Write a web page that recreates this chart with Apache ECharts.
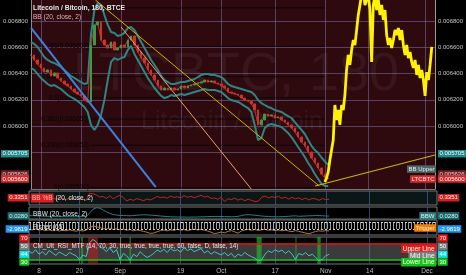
<!DOCTYPE html>
<html><head><meta charset="utf-8">
<script src="https://cdn.jsdelivr.net/npm/echarts@6/dist/echarts.min.js"></script>
<style>html,body{margin:0;padding:0;background:#000;}#c{width:466px;height:275px;}</style>
</head><body><div id="c"></div>
<script>
// ---------------- DATA ----------------
const ltcStart = '2013-08-05';
const ltcClose = [
0.006541,0.006503,0.006472,0.006442,0.006411,0.006427,0.006381,0.006404,0.006366,0.006343,
0.006320,0.006305,0.006282,0.006259,0.006244,0.006229,0.006198,0.006183,0.006617,0.006770,
0.006792,0.006655,0.006617,0.006594,0.006640,0.006579,0.006594,0.006617,0.006602,0.006655,
0.006686,0.006617,0.006564,0.006518,0.006480,0.006427,0.006389,0.006350,0.006305,0.006274,
0.006290,0.006274,0.006290,0.006274,0.006282,0.006305,0.006290,0.006305,0.006312,0.006320,
0.006328,0.006335,0.006350,0.006335,0.006343,0.006328,0.006320,0.006305,0.006290,0.006259,
0.006251,0.006244,0.006236,0.006213,0.006198,0.006190,0.006168,0.006122,0.006008,0.006046,
0.006091,0.006076,0.006084,0.006061,0.006069,0.006046,0.006030,0.006008,0.005985,0.005954,
0.005916,0.005878,0.005848,0.005802,0.005756,0.005718,0.005680,0.005634,0.005604,0.005600];
const bbUpper = [
0.006640,0.006625,0.006602,0.006564,0.006526,0.006503,0.006488,0.006480,0.006465,0.006450,
0.006427,0.006404,0.006381,0.006366,0.006350,0.006335,0.006320,0.006328,0.006700,0.006880,
0.006937,0.006922,0.006846,0.006770,0.006716,0.006709,0.006686,0.006693,0.006709,0.006747,
0.006754,0.006731,0.006686,0.006640,0.006594,0.006549,0.006503,0.006465,0.006427,0.006381,
0.006350,0.006335,0.006320,0.006320,0.006328,0.006335,0.006335,0.006343,0.006350,0.006358,
0.006373,0.006389,0.006396,0.006396,0.006389,0.006389,0.006381,0.006373,0.006350,0.006320,
0.006305,0.006297,0.006290,0.006282,0.006274,0.006267,0.006259,0.006236,0.006198,0.006175,
0.006160,0.006145,0.006137,0.006122,0.006114,0.006107,0.006091,0.006076,0.006061,0.006030,
0.006000,0.005970,0.005939,0.005893,0.005848,0.005817,0.005794,0.005760,0.005730,0.005705];
const bbLower = [
0.006442,0.006427,0.006396,0.006366,0.006343,0.006320,0.006305,0.006312,0.006297,0.006282,
0.006259,0.006236,0.006221,0.006206,0.006190,0.006168,0.006145,0.006107,0.006008,0.005970,
0.006008,0.006084,0.006198,0.006350,0.006488,0.006518,0.006503,0.006518,0.006526,0.006579,
0.006610,0.006549,0.006503,0.006457,0.006411,0.006366,0.006328,0.006290,0.006259,0.006229,
0.006213,0.006221,0.006236,0.006229,0.006236,0.006244,0.006236,0.006244,0.006251,0.006259,
0.006267,0.006274,0.006282,0.006274,0.006274,0.006274,0.006267,0.006259,0.006236,0.006213,
0.006198,0.006190,0.006183,0.006168,0.006152,0.006137,0.006107,0.006008,0.005893,0.005909,
0.005985,0.006008,0.006015,0.006008,0.006000,0.005992,0.005970,0.005947,0.005916,0.005878,
0.005840,0.005802,0.005764,0.005718,0.005680,0.005634,0.005596,0.005558,0.005543,0.005543];
// projected bars pattern (yellow), half-day steps from Nov 1
const patternStart = '2013-11-01';
const patternValues = [
0.005573,0.005604,0.005650,0.005741,0.005817,0.005893,0.006160,0.006046,0.006122,0.006008,
0.006160,0.006122,0.006236,0.006427,0.006541,0.006465,0.006579,0.006655,0.006617,0.006731,
0.006846,0.006922,0.006998,0.007036,0.006922,0.006960,0.006998,0.006884,0.006488,0.006922,
0.006998,0.006884,0.006960,0.006846,0.006922,0.006808,0.006884,0.006693,0.006617,0.006670,
0.006594,0.006655,0.006731,0.006693,0.006747,0.006655,0.006731,0.006617,0.006541,0.006617,
0.006518,0.006564,0.006488,0.006442,0.006503,0.006389,0.006465,0.006366,0.006427,0.006350,
0.006229,0.006411,0.006350,0.006465,0.006602];
const pctB = [
0.62,0.45,0.70,0.38,0.55,0.30,0.62,0.48,0.35,0.58,
0.42,0.30,0.50,0.40,0.28,0.46,0.35,0.20,1.10,1.05,
0.90,0.62,0.70,0.45,0.78,0.40,0.66,0.85,0.55,0.10,
0.35,0.20,0.42,0.30,0.15,0.38,0.25,0.45,0.70,0.55,
0.62,0.48,0.75,0.58,0.66,0.52,0.80,0.60,0.70,0.55,
0.68,0.85,0.62,0.72,0.45,0.50,0.35,0.58,0.05,0.40,
0.30,0.48,0.22,0.40,0.15,0.35,0.20,0.05,0.10,0.60,
0.75,0.50,0.68,0.55,0.72,0.45,0.62,0.35,0.58,0.40,
0.52,0.30,0.48,0.25,0.44,0.38,0.20,0.42,0.30,0.34];
const bbw = [
0.045,0.044,0.042,0.040,0.038,0.036,0.035,0.034,0.033,0.032,
0.032,0.031,0.031,0.030,0.030,0.031,0.032,0.034,0.080,0.130,
0.150,0.145,0.120,0.095,0.075,0.060,0.052,0.048,0.046,0.044,
0.043,0.045,0.050,0.054,0.056,0.055,0.052,0.048,0.044,0.040,
0.036,0.033,0.030,0.028,0.027,0.026,0.026,0.025,0.025,0.026,
0.027,0.028,0.030,0.032,0.033,0.034,0.034,0.033,0.032,0.031,
0.030,0.032,0.036,0.045,0.055,0.058,0.055,0.050,0.045,0.040,
0.036,0.034,0.032,0.030,0.030,0.031,0.033,0.036,0.040,0.042,
0.036,0.038,0.040,0.042,0.044,0.046,0.045,0.043,0.040,0.038];
const fisher = [
-2.2,-2.5,-2.0,-2.6,-2.3,-2.8,-2.4,-2.9,-2.5,-3.0,
-2.6,-2.9,-2.4,-2.8,-3.1,-2.7,-3.0,-2.6,-1.2,-0.6,
-0.8,-1.3,-1.8,-2.0,-1.6,-2.2,-1.9,-2.4,-2.1,-2.6,
-2.3,-2.9,-2.5,-2.8,-3.2,-3.6,-4.2,-4.0,-3.4,-2.8,
-2.5,-2.9,-2.4,-2.7,-2.2,-2.6,-2.3,-2.8,-2.4,-2.1,
-2.5,-2.2,-2.6,-3.0,-3.6,-4.3,-4.0,-3.5,-3.9,-3.2,
-2.8,-3.4,-4.1,-3.0,-2.5,-2.2,-2.6,-2.3,-2.7,-2.4,
-2.2,-2.6,-2.4,-2.8,-2.5,-2.9,-2.6,-3.0,-3.3,-2.8,
-3.2,-3.6,-4.0,-4.4,-3.8,-3.2,-2.9,-3.1,-2.8,-2.98];
const fisherBand = [1.5, -2.0];
const rsi = [
52,46,55,44,50,42,53,47,41,49,45,40,48,44,40,31,42,38,
72,80,74,62,58,50,60,48,55,
30,46,40,29,44,38,50,42,36,
40,46,54,50,56,48,58,52,55,49,60,53,57,50,54,58,47,52,44,50,46,
42,48,40,46,36,44,40,48,42,38,34,28,30,
44,52,48,55,50,54,46,52,44,31,46,42,48,40,44,36,28,32,40,44];
const rsiLevels = [70, 30];
const rsiHot = [['2013-08-22T12:00Z','2013-08-25T12:00Z']];
const rsiCold = [['2013-08-20T12:00Z','2013-08-21T00:00Z'],['2013-09-01T00:00Z','2013-09-01T08:00Z'],
  ['2013-09-03T20:00Z','2013-09-04T06:00Z'],['2013-10-11T12:00Z','2013-10-13T00:00Z'],
  ['2013-10-23T00:00Z','2013-10-23T08:00Z'],['2013-10-29T12:00Z','2013-10-30T12:00Z']];
const tickDates = ['2013-08-08','2013-08-20','2013-09-01','2013-09-19','2013-10-01','2013-10-17','2013-11-01','2013-11-14','2013-12-01'];
const tickLabels = ['8','20','Sep','19','Oct','17','Nov','14','Dec'];
const priceTicks = [0.0058,0.0060,0.0062,0.0064,0.0066,0.0068];
const fibLevels = ['1','0.786','0.618','0.5','0.382','0.236','0'];
const fibPrices = [0.006900,0.006607,0.006377,0.006215,0.006053,0.005853,0.005530];
const fibSpan = ['2013-08-22T20:00Z','2013-11-01T00:00Z'];
const trendBlue = [['2013-08-05T01:00Z',0.006747],['2013-09-11T09:00Z',0.005535]];
const trendYellowA = [['2013-08-24T07:30Z',0.006960],['2013-10-30T07:00Z',0.005543]];
const trendYellowB = [['2013-10-29T02:30Z',0.005543],['2013-12-03T23:00Z',0.005779]];
const trendOrange = [['2013-09-01T00:00Z',0.006754],['2013-10-09T23:00Z',0.005520]];
const lastPrice = 0.005600;
const xRange = ['2013-08-05T01:00Z','2013-12-03T23:00Z'];
const priceRange = [0.005520, 0.006960];

// ---------------- BUILD ----------------
const DAY = 86400000;
const P = s => Date.parse(s.length === 10 ? s + 'T00:00:00Z' : s);
const t0 = P(ltcStart);
const days = ltcClose.map((_, i) => t0 + i * DAY);
const pt0 = P(patternStart);
const patTimes = patternValues.map((_, i) => pt0 + i * DAY / 2);
const tickTimes = tickDates.map(P);
const xMin = P(xRange[0]), xMax = P(xRange[1]);
const pairs = (arr) => days.map((d, i) => [d, arr[i]]).filter(p => p[1] !== undefined);
const tl = (arr) => arr.map(p => [P(p[0]), p[1]]);
const candleData = ltcClose.map((c, i) => {
  const o = i ? ltcClose[i - 1] : c;
  return [days[i], o, c, Math.min(o, c), Math.max(o, c)];
});
const FONT = 'Liberation Sans, Arial, sans-serif';

const stripe = document.createElement('canvas');
stripe.width = 3; stripe.height = 2;
const sc = stripe.getContext('2d');
sc.fillStyle = 'rgba(210,210,210,0.75)'; sc.fillRect(0, 0, 1, 2);

const panes = [
  {top: 0, height: 189, bg: '#2e0a0f'},
  {top: 191, height: 14, bg: '#0b1616'},
  {top: 207, height: 12, bg: '#000000'},
  {top: 220, height: 15, bg: '#000000'},
  {top: 237, height: 28, bg: '#000000'}
];

const chart = echarts.init(document.getElementById('c'), null, {renderer: 'canvas'});
const fibSeries = fibLevels.map((lv, i) => ({
  name: 'Fib ' + lv, type: 'line', xAxisIndex: 0, yAxisIndex: 0, silent: true, z: 3,
  data: [[P(fibSpan[0]), fibPrices[i]], [P(fibSpan[1]), fibPrices[i]]],
  showSymbol: true, symbol: 'circle', symbolSize: 1, itemStyle: {color: 'rgba(0,0,0,0)'},
  lineStyle: {color: 'rgba(0,0,0,0.7)', width: 1},
  label: {show: true, position: 'left', distance: 1, color: '#050505', fontSize: 6.5, fontFamily: FONT,
    formatter: p => p.dataIndex === 0 ? lv + '(' + fibPrices[i].toFixed(6) + ')' : ''},
  labelLayout: {hideOverlap: false}
}));
const option = {
  backgroundColor: '#000000',
  animation: false,
  grid: panes.map((g, i) => ({left: 29, right: 29, top: g.top, height: g.height, show: true,
    backgroundColor: g.bg, borderWidth: i ? 1 : 0, borderColor: '#777777'})),
  xAxis: panes.map((g, i) => ({
    type: 'value', gridIndex: i, min: xMin, max: xMax, scale: true,
    axisLine: {show: i === 0, onZero: false, lineStyle: {color: '#777777'}},
    axisTick: {show: false, customValues: tickTimes},
    axisLabel: {show: i === 4, customValues: tickTimes, color: '#bdbdbd', fontSize: 6.5, margin: 4, fontFamily: FONT,
      formatter: v => { const k = tickTimes.indexOf(v); return k >= 0 ? tickLabels[k] : ''; }},
    splitLine: {show: true, lineStyle: {color: i === 0 ? 'rgba(125,110,170,0.55)' : 'rgba(80,100,165,0.65)', width: 1}}
  })),
  yAxis: [
    {gridIndex: 0, position: 'left', min: priceRange[0], max: priceRange[1], scale: true,
      axisLine: {show: true, onZero: false, lineStyle: {color: '#8c8c8c'}}, axisTick: {show: false, customValues: priceTicks},
      axisLabel: {customValues: priceTicks, formatter: v => v.toFixed(6), color: '#c4c4c4', fontSize: 6, margin: 3, fontFamily: FONT},
      splitLine: {show: true, lineStyle: {color: 'rgba(125,110,170,0.55)'}}},
    {gridIndex: 0, position: 'right', min: priceRange[0], max: priceRange[1], scale: true,
      axisLine: {show: true, onZero: false, lineStyle: {color: '#9a9a9a'}}, axisTick: {show: false, customValues: priceTicks},
      axisLabel: {customValues: priceTicks, formatter: v => v.toFixed(6), color: '#c4c4c4', fontSize: 6, margin: 3, fontFamily: FONT},
      splitLine: {show: false}},
    {gridIndex: 1, min: -0.4, max: 1.4, show: false},
    {gridIndex: 2, min: 0, max: 0.16, show: false},
    {gridIndex: 3, min: -5, max: 2.5, show: false},
    {gridIndex: 4, min: 20, max: 86, show: false}
  ],
  series: [
    ...fibSeries,
    {name: 'BB Upper', type: 'line', xAxisIndex: 0, yAxisIndex: 0, data: pairs(bbUpper), showSymbol: false, silent: true,
      lineStyle: {color: '#2f8583', width: 2}, z: 4},
    {name: 'BB Lower', type: 'line', xAxisIndex: 0, yAxisIndex: 0, data: pairs(bbLower), showSymbol: false, silent: true,
      lineStyle: {color: '#2f8583', width: 2}, z: 4},
    {name: 'LTCBTC', type: 'candlestick', xAxisIndex: 0, yAxisIndex: 0, data: candleData, barWidth: 2,
      encode: {x: 0, y: [1, 2, 3, 4]}, silent: true, z: 5,
      itemStyle: {color: '#3a9a4a', color0: '#c8332b', borderColor: '#3a9a4a', borderColor0: '#c8332b', borderWidth: 1},
      markLine: {symbol: 'none', silent: true, label: {show: false},
        data: [{yAxis: lastPrice, lineStyle: {color: '#d42a2a', type: [2, 2], width: 1}}]}},
    {name: 'Close', type: 'line', xAxisIndex: 0, yAxisIndex: 0, data: pairs(ltcClose), showSymbol: false, silent: true,
      lineStyle: {color: '#b8322c', width: 1}, z: 5},
    {name: 'Pattern', type: 'line', xAxisIndex: 0, yAxisIndex: 0, data: patTimes.map((d, i) => [d, patternValues[i]]),
      showSymbol: false, silent: true, lineStyle: {color: '#fff200', width: 2.8}, z: 6},
    {name: 'Blue', type: 'line', xAxisIndex: 0, yAxisIndex: 0, data: tl(trendBlue), showSymbol: false, silent: true,
      lineStyle: {color: '#3f80dc', width: 2}, z: 7},
    {name: 'YellowA', type: 'line', xAxisIndex: 0, yAxisIndex: 0, data: tl(trendYellowA), showSymbol: false, silent: true,
      lineStyle: {color: '#cbb400', width: 1}, z: 7},
    {name: 'YellowB', type: 'line', xAxisIndex: 0, yAxisIndex: 0, data: tl(trendYellowB), showSymbol: false, silent: true,
      lineStyle: {color: '#cbb400', width: 1.2}, z: 7},
    {name: 'Orange', type: 'line', xAxisIndex: 0, yAxisIndex: 0, data: tl(trendOrange), showSymbol: false, silent: true,
      lineStyle: {color: '#e3a36a', width: 1}, z: 7},
    {name: '%B', type: 'line', xAxisIndex: 1, yAxisIndex: 2, data: pairs(pctB), showSymbol: false, silent: true,
      lineStyle: {color: '#d01f1f', width: 1}},
    {name: 'BBW', type: 'line', xAxisIndex: 2, yAxisIndex: 3, data: pairs(bbw), showSymbol: false, silent: true,
      lineStyle: {color: '#1f8486', width: 1}},
    {name: 'Fisher', type: 'line', xAxisIndex: 3, yAxisIndex: 4, data: pairs(fisher), showSymbol: false, silent: true,
      lineStyle: {color: '#b8743a', width: 1},
      markArea: {silent: true, data: [[{yAxis: fisherBand[1], itemStyle: {color: {image: stripe, repeat: 'repeat'}}}, {yAxis: fisherBand[0]}]]},
      markLine: {symbol: 'none', silent: true, label: {show: false},
        lineStyle: {color: '#d8d8d8', type: [2, 2], width: 1},
        data: fisherBand.map(v => ({yAxis: v}))}},
    {name: 'RSI', type: 'line', xAxisIndex: 4, yAxisIndex: 5, data: pairs(rsi), showSymbol: false, silent: true,
      lineStyle: {color: '#39c9cb', width: 1}, z: 5,
      markArea: {silent: true, data: [
        [{yAxis: rsiLevels[1], itemStyle: {color: 'rgba(130,130,130,0.45)'}}, {yAxis: rsiLevels[0]}],
        ...rsiHot.map(z => [{xAxis: P(z[0]), itemStyle: {color: 'rgba(190,30,30,0.55)'}}, {xAxis: P(z[1])}]),
        ...rsiCold.map(z => [{xAxis: P(z[0]), itemStyle: {color: 'rgba(30,200,40,0.6)'}}, {xAxis: P(z[1])}])
      ]},
      markLine: {symbol: 'none', silent: true, label: {show: false},
        data: [{yAxis: rsiLevels[0], lineStyle: {color: '#e01414', width: 1.5, type: 'solid'}},
               {yAxis: rsiLevels[1], lineStyle: {color: '#19c219', width: 1.5, type: 'solid'}}]}}
  ]
};
chart.setOption(option);

// ---------------- LABELS / TAGS ----------------
const L = 29, R = 437;
const g = [];
const txt = (text, x, y, o) => g.push(Object.assign({type: 'text', x, y, z: 100,
  style: Object.assign({text, font: '6px ' + FONT, fill: '#ffffff', verticalAlign: 'middle'}, o.style)}, o.el || {}));
const tags = [
  ['0.005705', 0.005705, 0, -11, '#1f8a8a', '#ffffff', null, null],
  ['0.005626', 0.005626, 0, -1, '#6e2128', '#f0c8c8', 'BB Upper', '#4b6766'],
  ['0.005600', 0.005600, 0, 0.5, '#d42a2a', '#ffffff', 'LTCBTC', '#d42a2a'],
  ['0.3351', 0.3351, 2, -1.5, '#d41f1f', '#ffffff', null, null],
  ['0.0280', 0.028, 3, -1, '#1b6a6b', '#d8f0f0', 'BBW', '#2a7d7e'],
  ['-2.9819', -2.9819, 4, -2, '#2196f3', '#ffffff', 'Trigger', '#f57c00'],
  ['70', 70, 5, -5.5, '#e01b1b', '#ffffff', null, null],
  ['50', 50, 5, -5.5, '#7d7d7d', '#ffffff', null, null],
  ['44', 44, 5, 0, '#17dede', '#ffffff', null, null],
  ['30', 30, 5, 2, '#19c019', '#ffffff', null, null]
];
tags.forEach(tg => {
  const y = chart.convertToPixel({yAxisIndex: tg[2]}, tg[1]) + tg[3];
  const st = {backgroundColor: tg[4], fill: tg[5], padding: [1, 1.5, 0.5, 1.5]};
  txt(tg[0], L, y, {style: Object.assign({align: 'right'}, st)});
  txt(tg[0], R + 1, y, {style: Object.assign({align: 'left'}, st)});
  if (tg[6]) txt(tg[6], R - 1, y - (tg[0] === '0.005626' ? 5 : (tg[0] === '-2.9819' ? 1 : 0)),
    {style: {align: 'right', backgroundColor: tg[7], fill: '#eaeaea', padding: [1, 1.5, 0.5, 1.5]}});
});
const rsiNames = [['Upper Line', 57, '#e01b1b'], ['Mid Line', 40, '#7d7d7d'], ['Lower Line', 24, '#19c019']];
rsiNames.forEach(r => txt(r[0], R - 1, chart.convertToPixel({yAxisIndex: 5}, r[1]),
  {style: {align: 'right', backgroundColor: r[2], fill: '#ffffff', padding: [1, 1.5, 0.5, 1.5], font: '6.5px ' + FONT}}));
txt('Litecoin / Bitcoin, 180, BTCE', 33, 8.5, {style: {font: 'bold 6.8px ' + FONT, fill: '#e8e8e8'}});
txt('BB (20, close, 2)', 33, 17, {style: {fill: '#d9b3b3', font: '6.5px ' + FONT}});
g.push({type: 'text', x: 31, y: 198, z: 100, style: {text: '{a|BB %B} (20, close, 2)', font: '6.5px ' + FONT, fill: '#e6e6e6',
  verticalAlign: 'middle', rich: {a: {backgroundColor: '#d42020', fill: '#ffb0b0', font: '6.5px ' + FONT, padding: [1, 1]}}}});
txt('BBW (20, close, 2)', 33, 214, {style: {fill: '#e6e6e6', font: '6.5px ' + FONT}});
txt('Fisher (65)', 33, 227, {style: {fill: '#e6e6e6', font: '6.5px ' + FONT}});
txt('CM_Ult_RSI_MTF (14, 70, 30, true, true, true, true, 60, false, D, false, 14)', 33, 246,
  {style: {fill: '#e6e6e6', font: '6.3px ' + FONT}});
g.push({type: 'text', x: 236, y: 75, z: 1, style: {text: 'LTCBTC, 180', font: '54px ' + FONT, fill: 'rgba(255,255,255,0.05)', align: 'center', verticalAlign: 'middle'}});
g.push({type: 'text', x: 232, y: 122, z: 1, style: {text: 'Litecoin / Bitcoin', font: '25px ' + FONT, fill: 'rgba(255,255,255,0.05)', align: 'center', verticalAlign: 'middle'}});
chart.setOption({graphic: {elements: g}});
</script>
</body></html>
